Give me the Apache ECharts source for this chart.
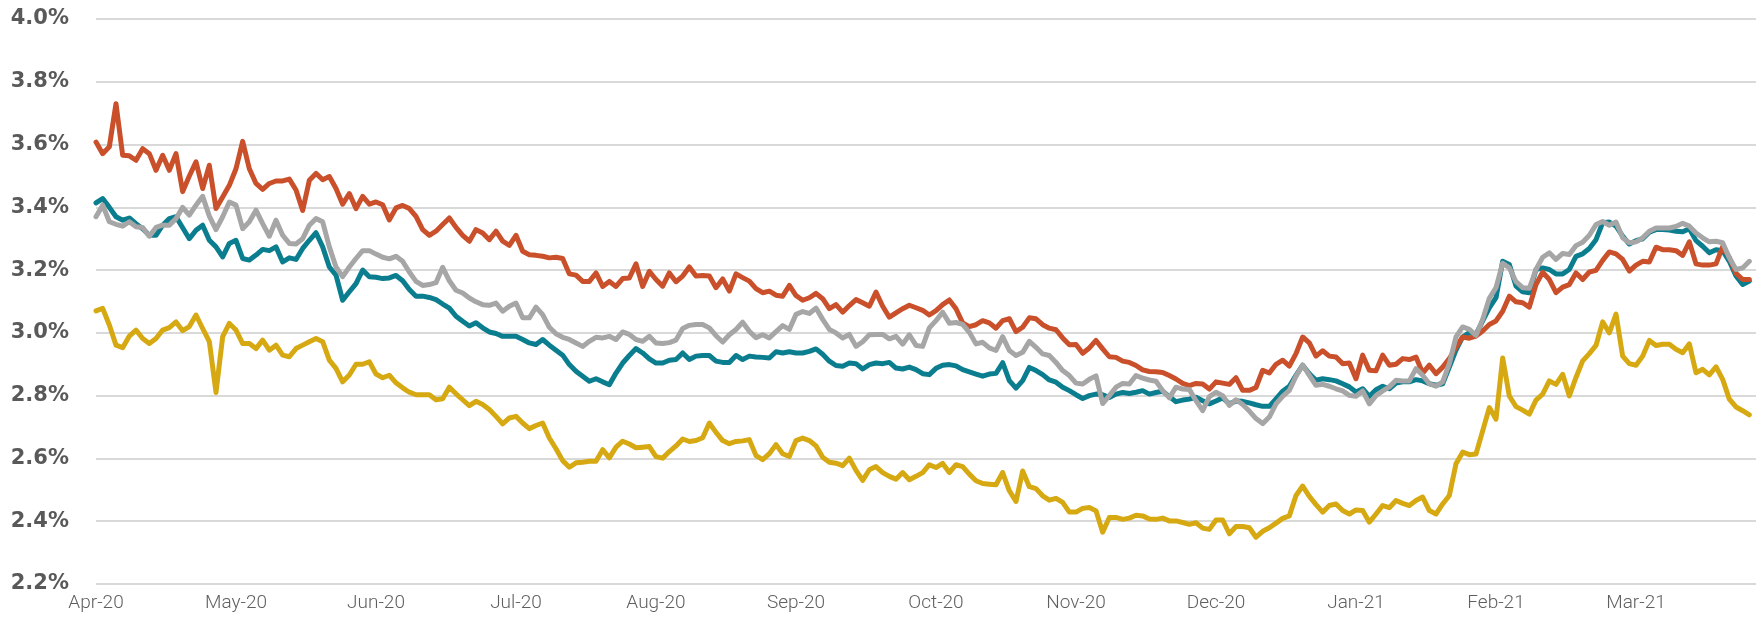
<!DOCTYPE html>
<html>
<head>
<meta charset="utf-8">
<script src="https://cdn.jsdelivr.net/npm/echarts@6/dist/echarts.min.js"></script>
<style>
html,body{margin:0;padding:0;background:#fff;}
#chart{width:1756px;height:624px;}
</style>
</head>
<body>
<div id="chart"></div>
<script>
// Month tick labels (one label every 21 business days)
const monthLabels = ['Apr-20','May-20','Jun-20','Jul-20','Aug-20','Sep-20','Oct-20','Nov-20','Dec-20','Jan-21','Feb-21','Mar-21'];
const daysPerMonth = 21;

// Daily series values (%), business days from early Apr-20 to late Mar-21
const redSeries = [
3.608,3.571,3.593,3.73,3.566,3.564,3.55,3.587,3.571,3.518,3.566,3.518,3.571,3.45,3.50,3.545,3.46,3.534,3.396,3.433,3.47,3.523,3.61,3.523,3.476,3.457,3.476,3.484,3.484,3.49,3.455,3.39,3.486,3.508,3.488,3.498,3.46,3.41,3.444,3.396,3.435,3.41,
3.417,3.408,3.36,3.398,3.406,3.396,3.371,3.329,3.311,3.324,3.345,3.366,3.336,3.311,3.292,3.329,3.318,3.297,3.324,3.292,3.279,3.311,3.26,3.249,3.247,3.244,3.239,3.241,3.237,3.188,3.184,3.164,3.164,3.191,3.148,3.164,3.148,3.173,3.175,3.22,3.148,3.196,
3.170,3.149,3.191,3.163,3.181,3.21,3.181,3.183,3.181,3.144,3.172,3.133,3.188,3.176,3.165,3.141,3.128,3.133,3.12,3.117,3.151,3.119,3.104,3.112,3.126,3.109,3.077,3.09,3.066,3.087,3.106,3.096,3.085,3.13,3.085,3.05,3.064,3.077,3.088,3.08,3.072,3.057,
3.071,3.09,3.105,3.077,3.032,3.02,3.026,3.039,3.032,3.015,3.039,3.045,3.004,3.018,3.048,3.045,3.026,3.015,3.01,2.984,2.962,2.963,2.935,2.952,2.976,2.949,2.924,2.922,2.91,2.906,2.896,2.882,2.877,2.876,2.874,2.864,2.853,2.839,2.832,2.839,2.837,2.821,
2.844,2.84,2.836,2.857,2.817,2.817,2.826,2.881,2.872,2.90,2.913,2.894,2.934,2.987,2.968,2.926,2.943,2.926,2.923,2.902,2.904,2.854,2.929,2.881,2.879,2.929,2.897,2.90,2.918,2.915,2.923,2.872,2.897,2.87,2.891,2.918,2.955,2.987,
2.983,2.99,3.006,3.027,3.038,3.069,3.117,3.099,3.096,3.082,3.154,3.193,3.17,3.128,3.146,3.154,3.191,3.17,3.194,3.199,3.231,3.258,3.252,3.234,3.197,3.216,3.228,3.226,3.273,3.265,3.265,3.262,3.247,3.29,3.22,3.216,3.216,3.22,3.275,3.24,3.19,3.17,3.17
];
const tealSeries = [
3.414,3.428,3.40,3.37,3.359,3.366,3.348,3.332,3.311,3.311,3.343,3.364,3.37,3.335,3.30,3.327,3.343,3.295,3.274,3.242,3.285,3.295,3.237,3.232,3.248,3.266,3.262,3.274,3.226,3.239,3.234,3.269,3.295,3.319,3.274,3.21,3.184,3.104,3.131,3.157,3.20,3.179,
3.177,3.173,3.175,3.183,3.166,3.138,3.117,3.117,3.113,3.106,3.092,3.079,3.053,3.037,3.022,3.032,3.016,3.003,2.998,2.989,2.989,2.989,2.979,2.968,2.963,2.979,2.961,2.945,2.929,2.899,2.878,2.862,2.846,2.854,2.844,2.835,2.872,2.904,2.928,2.95,2.936,2.917,
2.904,2.904,2.913,2.915,2.936,2.915,2.926,2.928,2.928,2.91,2.906,2.906,2.928,2.915,2.926,2.923,2.922,2.92,2.94,2.936,2.94,2.936,2.936,2.941,2.949,2.932,2.91,2.896,2.894,2.904,2.902,2.885,2.899,2.904,2.902,2.906,2.888,2.885,2.891,2.883,2.87,2.867,
2.887,2.897,2.899,2.895,2.883,2.876,2.869,2.862,2.869,2.871,2.905,2.848,2.824,2.848,2.89,2.88,2.867,2.85,2.843,2.827,2.816,2.803,2.791,2.80,2.805,2.803,2.794,2.805,2.81,2.807,2.811,2.816,2.805,2.81,2.814,2.797,2.781,2.786,2.789,2.795,2.784,2.774,
2.783,2.793,2.774,2.783,2.782,2.777,2.771,2.766,2.766,2.79,2.814,2.83,2.865,2.897,2.87,2.849,2.854,2.851,2.847,2.838,2.828,2.812,2.822,2.798,2.819,2.83,2.822,2.84,2.844,2.844,2.851,2.847,2.838,2.833,2.838,2.891,2.945,2.987,
3.001,2.995,3.038,3.08,3.112,3.228,3.218,3.149,3.131,3.128,3.202,3.207,3.202,3.188,3.188,3.202,3.244,3.252,3.269,3.297,3.351,3.353,3.34,3.308,3.283,3.294,3.30,3.321,3.329,3.329,3.328,3.324,3.322,3.332,3.294,3.276,3.255,3.265,3.262,3.228,3.181,3.154,3.165
];
const graySeries = [
3.37,3.407,3.354,3.346,3.34,3.354,3.338,3.336,3.308,3.336,3.343,3.343,3.364,3.40,3.375,3.407,3.435,3.372,3.329,3.37,3.417,3.407,3.332,3.354,3.391,3.348,3.308,3.359,3.311,3.285,3.283,3.30,3.343,3.364,3.354,3.274,3.21,3.179,3.21,3.237,3.262,3.262,
3.251,3.241,3.236,3.244,3.228,3.194,3.164,3.151,3.154,3.16,3.209,3.166,3.136,3.127,3.111,3.099,3.09,3.088,3.095,3.069,3.085,3.095,3.048,3.048,3.082,3.058,3.018,2.997,2.986,2.979,2.968,2.957,2.973,2.986,2.984,2.989,2.979,3.003,2.995,2.979,2.973,2.989,
2.968,2.966,2.969,2.977,3.014,3.024,3.027,3.027,3.016,2.991,2.971,2.994,3.011,3.034,3.005,2.985,2.994,2.984,3.004,3.023,3.011,3.059,3.068,3.062,3.079,3.043,3.011,3.0,2.984,2.995,2.957,2.972,2.994,2.995,2.995,2.981,2.989,2.964,2.994,2.96,2.957,3.016,
3.039,3.066,3.031,3.033,3.027,3.002,2.965,2.97,2.952,2.944,2.988,2.944,2.928,2.938,2.973,2.954,2.933,2.928,2.906,2.88,2.864,2.84,2.837,2.852,2.863,2.775,2.80,2.827,2.839,2.837,2.864,2.856,2.85,2.846,2.816,2.793,2.827,2.821,2.82,2.784,2.752,2.797,
2.811,2.80,2.769,2.787,2.772,2.751,2.727,2.711,2.732,2.774,2.798,2.817,2.862,2.897,2.865,2.833,2.836,2.83,2.822,2.815,2.801,2.798,2.815,2.774,2.80,2.815,2.828,2.849,2.847,2.847,2.886,2.865,2.838,2.83,2.844,2.902,2.987,3.019,
3.011,2.992,3.043,3.11,3.144,3.222,3.207,3.163,3.144,3.142,3.202,3.241,3.255,3.234,3.253,3.25,3.278,3.289,3.311,3.345,3.355,3.343,3.353,3.303,3.287,3.29,3.303,3.324,3.334,3.334,3.334,3.339,3.349,3.34,3.318,3.303,3.29,3.292,3.287,3.239,3.202,3.207,3.228
];
const goldSeries = [
3.07,3.078,3.025,2.961,2.953,2.99,3.009,2.982,2.966,2.982,3.009,3.017,3.035,3.007,3.02,3.057,3.014,2.972,2.81,2.988,3.03,3.009,2.966,2.966,2.95,2.977,2.945,2.961,2.929,2.924,2.95,2.961,2.972,2.982,2.972,2.913,2.887,2.844,2.866,2.90,2.90,2.908,
2.869,2.857,2.865,2.841,2.825,2.811,2.803,2.803,2.803,2.787,2.79,2.827,2.806,2.787,2.768,2.782,2.772,2.756,2.734,2.71,2.729,2.734,2.713,2.695,2.705,2.713,2.665,2.631,2.593,2.572,2.586,2.588,2.591,2.591,2.628,2.602,2.636,2.655,2.646,2.634,2.636,2.638,
2.606,2.601,2.622,2.64,2.662,2.654,2.657,2.666,2.713,2.683,2.657,2.647,2.654,2.656,2.66,2.609,2.596,2.615,2.644,2.615,2.606,2.657,2.665,2.657,2.64,2.604,2.588,2.585,2.577,2.601,2.562,2.53,2.564,2.574,2.555,2.543,2.534,2.555,2.532,2.543,2.555,2.58,
2.571,2.584,2.555,2.58,2.574,2.55,2.529,2.52,2.518,2.516,2.555,2.497,2.463,2.56,2.51,2.504,2.481,2.467,2.473,2.46,2.429,2.429,2.441,2.444,2.433,2.365,2.412,2.412,2.406,2.41,2.419,2.417,2.407,2.406,2.41,2.401,2.401,2.396,2.39,2.395,2.378,2.374,
2.404,2.404,2.36,2.383,2.383,2.379,2.349,2.368,2.379,2.394,2.409,2.417,2.482,2.512,2.479,2.453,2.429,2.45,2.455,2.434,2.423,2.436,2.434,2.397,2.423,2.45,2.443,2.466,2.457,2.45,2.466,2.477,2.434,2.423,2.455,2.482,2.583,2.62,
2.612,2.614,2.688,2.762,2.725,2.92,2.799,2.765,2.754,2.741,2.786,2.805,2.847,2.836,2.868,2.799,2.858,2.911,2.934,2.96,3.035,3.0,3.06,2.926,2.902,2.897,2.926,2.976,2.96,2.964,2.964,2.948,2.937,2.965,2.873,2.884,2.866,2.892,2.852,2.789,2.764,2.752,2.739
];

// y axis range
const yMin = 2.2, yMax = 4.0, yStep = 0.2;

const toPairs = arr => arr.map((v, i) => [i, v]);

const chart = echarts.init(document.getElementById('chart'), null, {renderer: 'canvas'});

function lineSeries(name, data, color) {
  return {
    name: name,
    type: 'line',
    data: toPairs(data),
    showSymbol: false,
    symbol: 'none',
    smooth: false,
    lineStyle: {color: color, width: 5, cap: 'round', join: 'round'},
    itemStyle: {color: color},
    emphasis: {disabled: true}
  };
}

chart.setOption({
  animation: false,
  backgroundColor: '#ffffff',
  grid: {left: 96, right: 0, top: 19, bottom: 40, containLabel: false},
  xAxis: {
    type: 'value',
    min: 0,
    max: 249,
    interval: daysPerMonth,
    axisLine: {show: false},
    axisTick: {show: false},
    splitLine: {show: false},
    axisLabel: {
      showMaxLabel: false,
      color: '#5f5f5f',
      fontFamily: 'Roboto',
      fontWeight: 300,
      fontSize: 19,
      margin: 10,
      formatter: function (v) {
        if (v % daysPerMonth !== 0) return '';
        return monthLabels[v / daysPerMonth] || '';
      }
    }
  },
  yAxis: {
    type: 'value',
    min: yMin,
    max: yMax,
    interval: yStep,
    axisLine: {show: false},
    axisTick: {show: false},
    splitLine: {show: true, lineStyle: {color: '#D9D9D9', width: 2}},
    axisLabel: {
      color: '#595959',
      fontFamily: 'DejaVu Sans',
      fontWeight: 'bold',
      fontSize: 21,
      margin: 27,
      formatter: v => v.toFixed(1) + '%'
    }
  },
  series: [
    lineSeries('Teal', tealSeries, '#0A7D8F'),
    lineSeries('Red', redSeries, '#C9502A'),
    lineSeries('Gray', graySeries, '#A6A6A6'),
    lineSeries('Gold', goldSeries, '#D6A912')
  ]
});
</script>
</body>
</html>
